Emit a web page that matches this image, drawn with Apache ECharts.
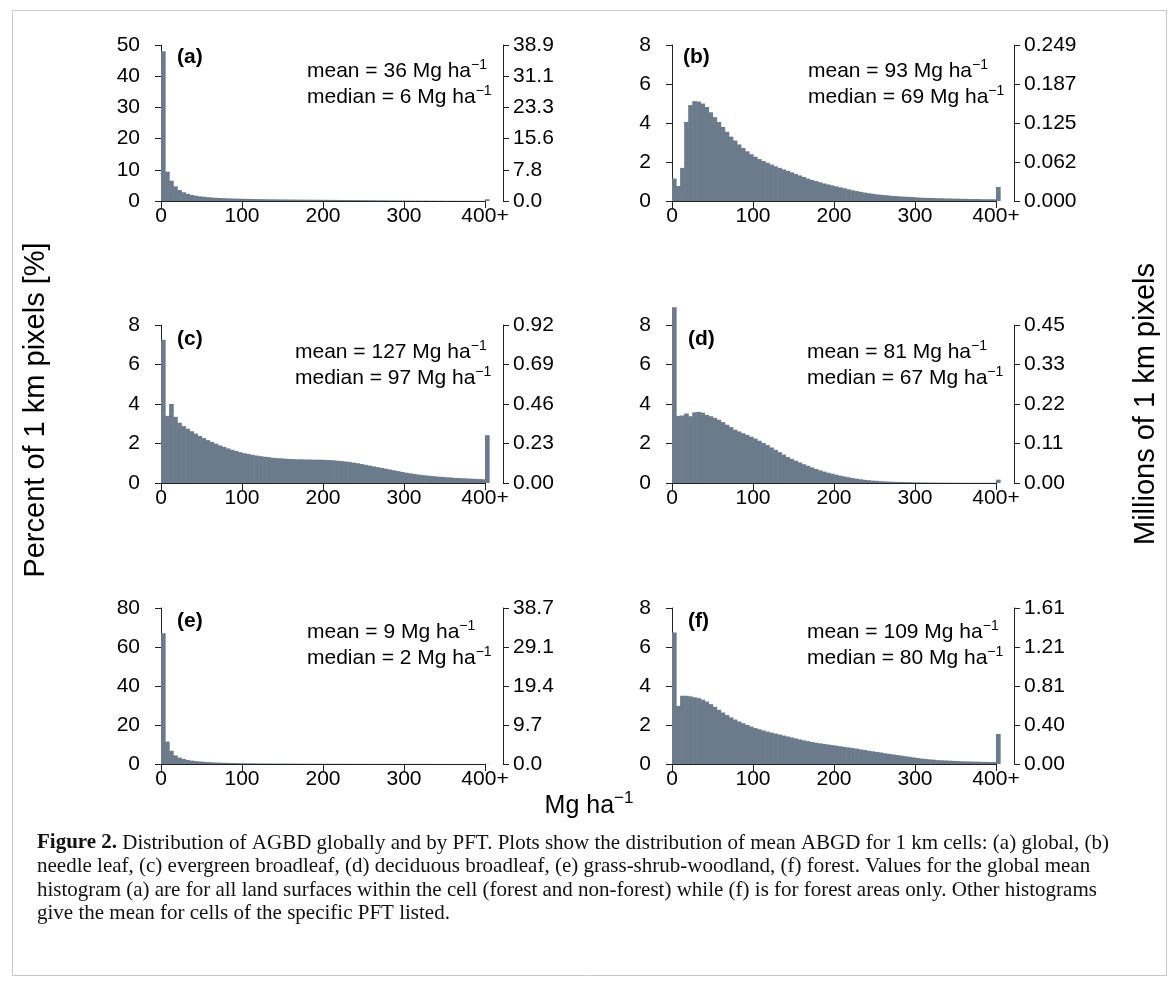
<!DOCTYPE html>
<html>
<head>
<meta charset="utf-8">
<title>Distribution of AGBD globally and by PFT</title>
<script src="https://cdn.jsdelivr.net/npm/echarts@6/dist/echarts.min.js"></script>
<style>
  html, body { margin: 0; padding: 0; background: #fff; }
  #chart { width: 1170px; height: 987px; }
</style>
</head>
<body>
<div id="chart"></div>
<script>
// histogram bins are 5 Mg/ha wide, the 81st bin holds everything over 400
var binWidth = 5;
var xTickLabels = ['0', '100', '200', '300', '400+'];

// percent of 1 km pixels per bin
var globalPct = [48, 9.4, 6.5, 4.7, 3.5, 2.8, 2.3, 1.95, 1.7, 1.5,
  1.35, 1.22, 1.12, 1.03, 0.96, 0.9, 0.85, 0.8, 0.76, 0.72,
  0.69, 0.66, 0.63, 0.61, 0.59, 0.57, 0.55, 0.53, 0.51, 0.5,
  0.48, 0.47, 0.46, 0.44, 0.43, 0.42, 0.41, 0.4, 0.39, 0.38,
  0.37, 0.36, 0.35, 0.34, 0.33, 0.32, 0.31, 0.3, 0.29, 0.27,
  0.26, 0.25, 0.24, 0.22, 0.21, 0.2, 0.18, 0.17, 0.16, 0.15,
  0.14, 0.13, 0.12, 0.11, 0.1, 0.1, 0.09, 0.09, 0.08, 0.08,
  0.07, 0.07, 0.07, 0.06, 0.06, 0.06, 0.05, 0.05, 0.05, 0.05,
  0.55];
var needlePct = [1.15, 0.77, 1.7, 4.05, 4.92, 5.12, 5.1, 5.0, 4.82, 4.55,
  4.3, 4.05, 3.8, 3.55, 3.3, 3.1, 2.9, 2.72, 2.55, 2.4,
  2.27, 2.15, 2.05, 1.96, 1.87, 1.78, 1.7, 1.62, 1.55, 1.47,
  1.39, 1.31, 1.23, 1.15, 1.08, 1.02, 0.96, 0.9, 0.85, 0.8,
  0.75, 0.7, 0.65, 0.6, 0.55, 0.51, 0.47, 0.43, 0.4, 0.37,
  0.34, 0.32, 0.3, 0.28, 0.26, 0.25, 0.23, 0.22, 0.21, 0.2,
  0.18, 0.17, 0.16, 0.16, 0.15, 0.14, 0.14, 0.13, 0.13, 0.12,
  0.12, 0.11, 0.11, 0.1, 0.1, 0.1, 0.09, 0.09, 0.09, 0.09,
  0.72];
var evergreenPct = [7.25, 3.4, 4.0, 3.35, 3.05, 2.88, 2.75, 2.62, 2.5, 2.38,
  2.27, 2.17, 2.08, 1.99, 1.9, 1.83, 1.75, 1.68, 1.62, 1.56,
  1.51, 1.47, 1.43, 1.39, 1.36, 1.33, 1.31, 1.28, 1.26, 1.25,
  1.23, 1.22, 1.21, 1.2, 1.2, 1.19, 1.19, 1.18, 1.18, 1.18,
  1.17, 1.16, 1.15, 1.13, 1.11, 1.09, 1.06, 1.03, 1.0, 0.96,
  0.92, 0.88, 0.84, 0.8, 0.76, 0.72, 0.68, 0.64, 0.6, 0.56,
  0.52, 0.49, 0.46, 0.43, 0.4, 0.38, 0.36, 0.34, 0.32, 0.31,
  0.29, 0.28, 0.26, 0.25, 0.24, 0.23, 0.22, 0.21, 0.2, 0.19,
  2.42];
var deciduousPct = [8.9, 3.4, 3.42, 3.52, 3.38, 3.58, 3.6, 3.56, 3.45, 3.38,
  3.3, 3.2, 3.08, 2.95, 2.83, 2.7, 2.61, 2.52, 2.43, 2.34,
  2.25, 2.14, 2.03, 1.92, 1.8, 1.68, 1.56, 1.44, 1.32, 1.22,
  1.13, 1.04, 0.95, 0.87, 0.79, 0.71, 0.64, 0.58, 0.52, 0.47,
  0.42, 0.37, 0.33, 0.29, 0.25, 0.22, 0.19, 0.16, 0.14, 0.12,
  0.11, 0.09, 0.08, 0.07, 0.06, 0.055, 0.05, 0.045, 0.04, 0.035,
  0.03, 0.028, 0.025, 0.022, 0.02, 0.018, 0.016, 0.015, 0.014, 0.013,
  0.012, 0.011, 0.01, 0.01, 0.01, 0.01, 0.01, 0.01, 0.01, 0.01,
  0.17];
var grassPct = [67, 11.5, 6.8, 4.4, 3.3, 2.6, 2.1, 1.75, 1.5, 1.3,
  1.12, 0.98, 0.86, 0.76, 0.68, 0.61, 0.55, 0.5, 0.46, 0.42,
  0.39, 0.36, 0.33, 0.31, 0.29, 0.27, 0.25, 0.24, 0.22, 0.21,
  0.2, 0.19, 0.18, 0.17, 0.16, 0.15, 0.15, 0.14, 0.13, 0.13,
  0.12, 0.12, 0.11, 0.11, 0.1, 0.1, 0.1, 0.09, 0.09, 0.09,
  0.08, 0.08, 0.08, 0.07, 0.07, 0.07, 0.07, 0.06, 0.06, 0.06,
  0.06, 0.05, 0.05, 0.05, 0.05, 0.05, 0.04, 0.04, 0.04, 0.04,
  0.04, 0.04, 0.03, 0.03, 0.03, 0.03, 0.03, 0.03, 0.03, 0.03,
  0.1];
var forestPct = [6.75, 2.98, 3.5, 3.5, 3.47, 3.42, 3.38, 3.3, 3.2, 3.07,
  2.93, 2.78, 2.64, 2.51, 2.39, 2.28, 2.18, 2.09, 2.0, 1.92,
  1.84, 1.78, 1.72, 1.66, 1.61, 1.56, 1.51, 1.46, 1.41, 1.36,
  1.31, 1.26, 1.21, 1.17, 1.13, 1.09, 1.06, 1.03, 1.0, 0.97,
  0.94, 0.91, 0.88, 0.85, 0.82, 0.79, 0.75, 0.72, 0.68, 0.65,
  0.62, 0.59, 0.55, 0.52, 0.49, 0.46, 0.43, 0.4, 0.37, 0.34,
  0.31, 0.28, 0.26, 0.24, 0.22, 0.2, 0.19, 0.18, 0.17, 0.16,
  0.15, 0.14, 0.13, 0.13, 0.12, 0.12, 0.11, 0.11, 0.1, 0.1,
  1.54];

var panelLetters = ['(a)', '(b)', '(c)', '(d)', '(e)', '(f)'];
var meanVals = [36, 93, 127, 81, 9, 109];
var medianVals = [6, 69, 97, 67, 2, 80];
var leftMax = [50, 8, 8, 8, 80, 8];
var leftStep = [10, 2, 2, 2, 20, 2];

// millions of 1 km pixels, right-hand ticks
var rightTicksA = ['0.0', '7.8', '15.6', '23.3', '31.1', '38.9'];
var rightTicksB = ['0.000', '0.062', '0.125', '0.187', '0.249'];
var rightTicksC = ['0.00', '0.23', '0.46', '0.69', '0.92'];
var rightTicksD = ['0.00', '0.11', '0.22', '0.33', '0.45'];
var rightTicksE = ['0.0', '9.7', '19.4', '29.1', '38.7'];
var rightTicksF = ['0.00', '0.40', '0.81', '1.21', '1.61'];

var pctSeries = [globalPct, needlePct, evergreenPct, deciduousPct, grassPct, forestPct];
var rightTicks = [rightTicksA, rightTicksB, rightTicksC, rightTicksD, rightTicksE, rightTicksF];

// layout
var sansFont = '"Liberation Sans", Arial, Helvetica, sans-serif';
var serifFont = '"Liberation Serif", "Times New Roman", serif';
var barColor = '#6c7b8b';
var axisColor = '#222';
var colLeft = [161, 672];
var rowTop = [45, 325, 608];
var rowHeight = [156, 158, 156];
var plotWidth = 324;
var letterPos = [[177, 57], [683, 57], [177, 339], [688, 339], [177, 621], [688, 621]];
var statPos = [[307, 71], [808, 71], [295, 352], [807, 352], [307, 632], [807, 632]];

var chart = echarts.init(document.getElementById('chart'));

// one rectangle per bin, overlapping its neighbour a little so no seams show
function binItem(params, api) {
  var top = api.coord([api.value(0), api.value(2)]);
  var base = api.coord([api.value(1), 0]);
  return {
    type: 'rect',
    shape: { x: top[0], y: top[1], width: base[0] - top[0] + 0.6, height: base[1] - top[1] },
    style: { fill: barColor }
  };
}

function supText(main, size, supSize, lh) {
  return {
    text: '{m|' + main + '}{s|\u22121}',
    rich: {
      m: { fontSize: size, fontFamily: sansFont, fill: '#000', lineHeight: lh },
      s: { fontSize: supSize, fontFamily: sansFont, fill: '#000', lineHeight: Math.round(supSize * 0.8), verticalAlign: 'top' }
    }
  };
}

var grids = [], xAxes = [], yAxes = [], series = [], graphics = [];

pctSeries.forEach(function (pct, i) {
  var col = i % 2, row = Math.floor(i / 2);
  grids.push({ left: colLeft[col], top: rowTop[row], width: plotWidth, height: rowHeight[row] });

  xAxes.push({
    type: 'value', gridIndex: i, min: 0, max: 400, interval: 100,
    axisLine: { show: true, onZero: false, lineStyle: { color: axisColor, width: 1 } },
    axisTick: { show: true, length: 7, lineStyle: { color: axisColor } },
    axisLabel: { fontSize: 21, color: '#000', fontFamily: sansFont, margin: 5,
      formatter: function (v) { return xTickLabels[Math.round(v / 100)]; } },
    splitLine: { show: false }
  });

  var step = leftStep[i];
  var ticks = rightTicks[i];
  yAxes.push({
    type: 'value', gridIndex: i, position: 'left', offset: 13,
    min: 0, max: leftMax[i], interval: step,
    axisLine: { show: true, lineStyle: { color: axisColor, width: 1 } },
    axisTick: { show: true, length: 6, lineStyle: { color: axisColor } },
    axisLabel: { fontSize: 21, color: '#000', fontFamily: sansFont, margin: 8 },
    splitLine: { show: false }
  });
  yAxes.push({
    type: 'value', gridIndex: i, position: 'right', offset: 18,
    min: 0, max: leftMax[i], interval: step,
    axisLine: { show: true, lineStyle: { color: axisColor, width: 1 } },
    axisTick: { show: true, length: 6, lineStyle: { color: axisColor } },
    axisLabel: { fontSize: 21, color: '#000', fontFamily: sansFont, margin: 10,
      formatter: function (v) { return ticks[Math.round(v / step)]; } },
    splitLine: { show: false }
  });

  series.push({
    type: 'custom', xAxisIndex: i, yAxisIndex: i * 2, clip: false,
    renderItem: binItem,
    encode: { x: [0, 1], y: 2 },
    data: pct.map(function (v, k) { return [k * binWidth, (k + 1) * binWidth, v]; })
  });

  graphics.push({
    type: 'text', x: letterPos[i][0], y: letterPos[i][1],
    style: { text: panelLetters[i], fontSize: 21, fontWeight: 'bold', fontFamily: sansFont,
      fill: '#000', align: 'left', verticalAlign: 'middle' }
  });
  var s1 = supText('mean = ' + meanVals[i] + ' Mg ha', 21, 14, 26);
  s1.align = 'left'; s1.verticalAlign = 'middle';
  graphics.push({ type: 'text', x: statPos[i][0], y: statPos[i][1], style: s1 });
  var s2 = supText('median = ' + medianVals[i] + ' Mg ha', 21, 14, 26);
  s2.align = 'left'; s2.verticalAlign = 'middle';
  graphics.push({ type: 'text', x: statPos[i][0], y: statPos[i][1] + 26, style: s2 });
});

// outer axis titles
graphics.push({
  type: 'text', x: 36, y: 410, rotation: Math.PI / 2,
  style: { text: 'Percent of 1 km pixels [%]', fontSize: 29, fontFamily: sansFont, fill: '#000',
    align: 'center', verticalAlign: 'middle' }
});
graphics.push({
  type: 'text', x: 1146, y: 404, rotation: Math.PI / 2,
  style: { text: 'Millions of 1 km pixels', fontSize: 29, fontFamily: sansFont, fill: '#000',
    align: 'center', verticalAlign: 'middle' }
});
var xt = supText('Mg ha', 25, 17, 32);
xt.align = 'center'; xt.verticalAlign = 'middle';
graphics.push({ type: 'text', x: 589, y: 806, style: xt });

// caption
var captionLines = [
  '{b|Figure 2.} Distribution of AGBD globally and by PFT. Plots show the distribution of mean ABGD for 1 km cells: (a) global, (b)',
  'needle leaf, (c) evergreen broadleaf, (d) deciduous broadleaf, (e) grass-shrub-woodland, (f) forest. Values for the global mean',
  'histogram (a) are for all land surfaces within the cell (forest and non-forest) while (f) is for forest areas only. Other histograms',
  'give the mean for cells of the specific PFT listed.'
];
captionLines.forEach(function (line, k) {
  graphics.push({
    type: 'text', x: 37, y: 843 + k * 23.5,
    style: {
      text: line, fontSize: 21, fontFamily: serifFont, fill: '#111',
      align: 'left', verticalAlign: 'middle',
      rich: { b: { fontSize: 21, fontFamily: serifFont, fontWeight: 'bold', fill: '#111' } }
    }
  });
});

// figure box
graphics.push({
  type: 'rect', shape: { x: 12.5, y: 10.5, width: 1154, height: 965 },
  style: { fill: 'none', stroke: '#c8c8c8', lineWidth: 1 }, z: -1
});

chart.setOption({
  animation: false,
  grid: grids,
  xAxis: xAxes,
  yAxis: yAxes,
  series: series,
  graphic: { elements: graphics }
});
</script>
</body>
</html>
